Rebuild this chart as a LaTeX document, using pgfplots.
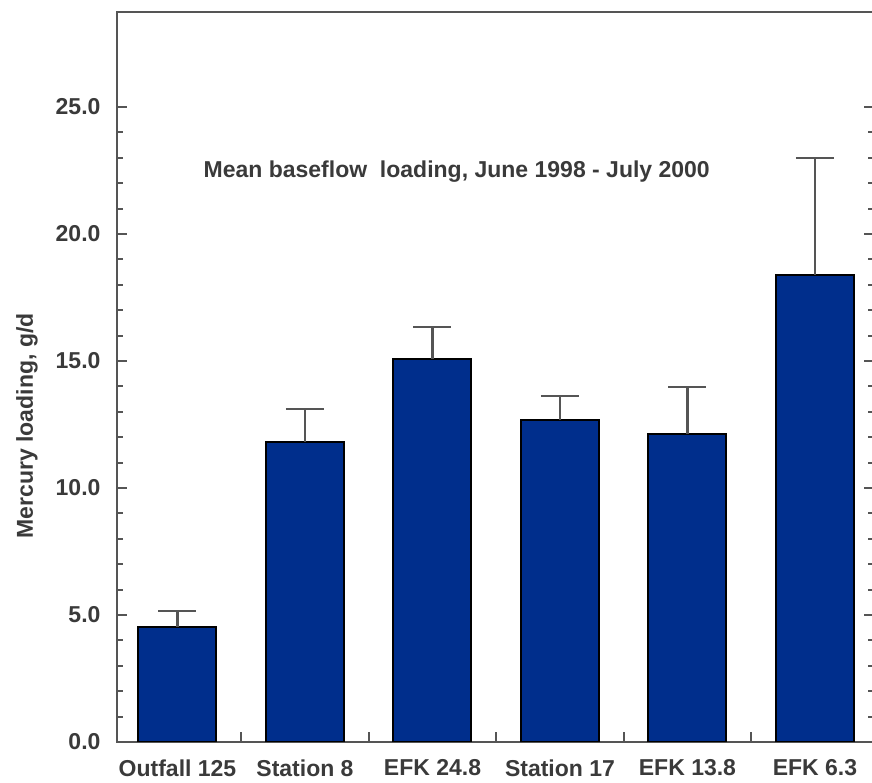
\documentclass[border=0pt]{standalone}
\usepackage{pgfplots}
\pgfplotsset{compat=1.18}
\usepackage{fontspec}
\setmainfont{Liberation Sans}

\definecolor{barblue}{RGB}{0,46,140}
\definecolor{inkgray}{RGB}{58,58,58}
\definecolor{axisgray}{RGB}{85,85,85}

% mean baseflow mercury loading (g/d) and upper error
\pgfplotstableread{
x  y      err
0  4.54   0.62
1  11.82  1.29
2  15.07  1.26
3  12.67  0.94
4  12.11  1.88
5  18.40  4.58
}\loading

\newcommand{\lblfont}{\fontsize{23}{27}\selectfont\bfseries}

\begin{document}
\begin{tikzpicture}
\path[use as bounding box] (-117pt,-41pt) rectangle (755pt,742pt);
\begin{axis}[
  at={(0pt,0pt)}, anchor=south west,
  scale only axis, width=757pt, height=730pt,
  xmin=-0.4745, xmax=5.463, ymin=0, ymax=28.74,
  axis line style={axisgray, line width=2pt},
  tick style={axisgray, line width=2pt},
  tick align=inside,
  major tick length=10pt, minor tick length=6pt,
  xtick={0.5,1.5,2.5,3.5,4.5}, xticklabels={},
  xtick pos=bottom,
  extra x ticks={0,1,2,3,4,5},
  extra x tick labels={Outfall 125, Station 8, EFK 24.8, Station 17, EFK 13.8, EFK 6.3},
  extra x tick style={major tick length=0pt},
  ytick={0,5,...,25}, minor y tick num=4,
  ytick pos=both, yticklabel pos=left,
  /pgf/number format/assume math mode=true,
  yticklabel style={xshift=-13pt, /pgf/number format/fixed, /pgf/number format/fixed zerofill, /pgf/number format/precision=1},
  xticklabel style={yshift=-14pt},
  tick label style={font=\lblfont, text=inkgray},
  ylabel={Mercury loading, g/d},
  every axis y label/.style={at={([xshift=-90pt]rel axis cs:0,0.433)}, rotate=90, anchor=center, font=\lblfont, text=inkgray},
]
\addplot[ybar, bar width=78pt, fill=barblue, draw=black, line width=2pt,
  error bars/.cd, y dir=plus, y explicit,
  error bar style={draw=axisgray, line width=2.2pt},
  error mark options={rotate=90, mark size=19pt, draw=axisgray, line width=2.2pt}]
  table[x=x, y=y, y error=err] {\loading};
\node[font=\fontsize{23}{28}\selectfont\bfseries, text=inkgray] at (axis cs:2.19,22.44)
  {Mean baseflow\ \ loading, June 1998 - July 2000};
\end{axis}
\end{tikzpicture}
\end{document}
